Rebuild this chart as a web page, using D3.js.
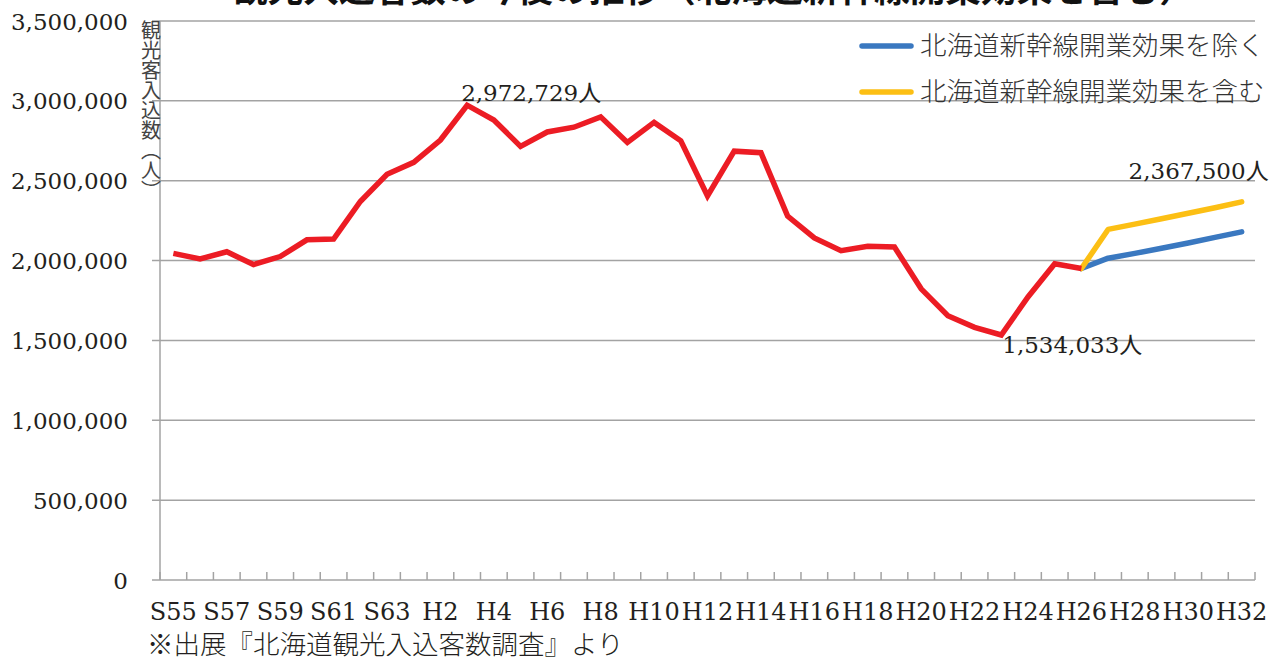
<!DOCTYPE html>
<meta charset="utf-8">
<script src="https://d3js.org/d3.v7.min.js"></script>
<style>
  body { margin: 0; background: #fff; }
  svg { display: block; }
</style>
<div id="vis"></div>
<script type="text/javascript">

// fiscal years S55 (1980) .. H32 (2020)
var years = ["S55","S56","S57","S58","S59","S60","S61","S62","S63",
  "H1","H2","H3","H4","H5","H6","H7","H8","H9","H10","H11","H12","H13","H14","H15","H16",
  "H17","H18","H19","H20","H21","H22","H23","H24","H25","H26","H27","H28","H29","H30","H31","H32"];

// actual visitors, S55 .. H26
var actual = [2045000, 2010000, 2055000, 1975000, 2025000, 2130000, 2135000, 2370000, 2540000,
  2615000, 2755000, 2972729, 2880000, 2715000, 2805000, 2835000, 2900000, 2740000, 2865000,
  2750000, 2405000, 2685000, 2675000, 2278000, 2142000, 2062000, 2090000, 2085000, 1823000,
  1655000, 1582000, 1534033, 1772000, 1980000, 1950000];

// forecasts H26 .. H32
var forecastYears = ["H26","H27","H28","H29","H30","H31","H32"];
var withoutShinkansen = [1950000, 2015000, 2045000, 2077000, 2110000, 2145000, 2180000];
var withShinkansen = [1950000, 2195000, 2228000, 2262000, 2296000, 2331000, 2367500];

var yTicks = [0, 500000, 1000000, 1500000, 2000000, 2500000, 3000000, 3500000];
var legendLabels = ["北海道新幹線開業効果を除く", "北海道新幹線開業効果を含む"];
var colors = {actual: "#ec1c24", without: "#3a78c0", with: "#fcbf14"};

var W = 1270, H = 663;
var margin = {left: 160, right: 1255, top: 21, bottom: 580};
var serif = "'DejaVu Serif', 'Noto Sans CJK JP', serif";
var cjk = "'Noto Sans CJK JP', sans-serif";

var svg = d3.select("#vis").append("svg")
  .attr("width", W)
  .attr("height", H);

var x = d3.scaleBand().domain(years).range([margin.left, margin.right]).padding(0);
var y = d3.scaleLinear().domain([0, 3500000]).range([margin.bottom, margin.top]);
var cx = function(yr) { return x(yr) + x.bandwidth() / 2; };
var fmt = d3.format(",");

// title, cut off at the top edge
svg.append("text")
  .attr("x", 232)
  .attr("y", 2)
  .attr("textLength", 963)
  .attr("lengthAdjust", "spacingAndGlyphs")
  .style("font-family", cjk)
  .style("font-weight", "bold")
  .style("font-size", "35px")
  .style("fill", "#111")
  .text("観光入込客数の今後の推移（北海道新幹線開業効果を含む）");

// gridlines
svg.append("g").selectAll("line").data(yTicks.filter(function(d) { return d > 0; }))
  .enter().append("line")
    .attr("x1", margin.left - 8)
    .attr("x2", margin.right)
    .attr("y1", function(d) { return y(d); })
    .attr("y2", function(d) { return y(d); })
    .attr("stroke", "#a3a3a3")
    .attr("stroke-width", 1.5);

// y tick labels
svg.append("g").selectAll("text").data(yTicks)
  .enter().append("text")
    .attr("x", 128)
    .attr("y", function(d) { return y(d) + 8.5; })
    .attr("text-anchor", "end")
    .style("font-family", serif)
    .style("font-size", "23px")
    .style("fill", "#231f20")
    .text(function(d) { return fmt(d); });

// axes lines
svg.append("line")
  .attr("x1", margin.left).attr("x2", margin.left)
  .attr("y1", margin.top).attr("y2", margin.bottom)
  .attr("stroke", "#a3a3a3").attr("stroke-width", 1.5);
svg.append("line")
  .attr("x1", margin.left - 8).attr("x2", margin.right)
  .attr("y1", margin.bottom).attr("y2", margin.bottom)
  .attr("stroke", "#a3a3a3").attr("stroke-width", 1.5);

// x ticks at category boundaries (pointing inside)
var bounds = years.map(function(d) { return x(d); }).concat([margin.right]);
svg.append("g").selectAll("line").data(bounds)
  .enter().append("line")
    .attr("x1", function(d) { return d; })
    .attr("x2", function(d) { return d; })
    .attr("y1", margin.bottom)
    .attr("y2", margin.bottom - 8)
    .attr("stroke", "#a3a3a3")
    .attr("stroke-width", 1.5);

// x labels, every other year
svg.append("g").selectAll("text").data(years.filter(function(d, i) { return i % 2 === 0; }))
  .enter().append("text")
    .attr("x", function(d) { return cx(d); })
    .attr("y", 620)
    .attr("text-anchor", "middle")
    .style("font-family", serif)
    .style("font-size", "24px")
    .style("fill", "#231f20")
    .text(function(d) { return d; });

// y axis title (vertical)
svg.append("text")
  .attr("x", 151)
  .attr("y", 20)
  .style("writing-mode", "vertical-rl")
  .style("font-family", cjk)
  .style("font-size", "20px")
  .style("fill", "#444")
  .text("観光客入込数（人）");

var line = d3.line()
  .x(function(d) { return cx(d[0]); })
  .y(function(d) { return y(d[1]); });

svg.append("path")
  .datum(forecastYears.map(function(d, i) { return [d, withoutShinkansen[i]]; }))
  .attr("d", line)
  .attr("fill", "none")
  .attr("stroke", colors.without)
  .attr("stroke-width", 5.5)
  .attr("stroke-linecap", "round")
  .attr("stroke-linejoin", "round");

svg.append("path")
  .datum(forecastYears.map(function(d, i) { return [d, withShinkansen[i]]; }))
  .attr("d", line)
  .attr("fill", "none")
  .attr("stroke", colors.with)
  .attr("stroke-width", 5.5)
  .attr("stroke-linecap", "round")
  .attr("stroke-linejoin", "round");

svg.append("path")
  .datum(actual.map(function(d, i) { return [years[i], d]; }))
  .attr("d", line)
  .attr("fill", "none")
  .attr("stroke", colors.actual)
  .attr("stroke-width", 5.5)
  .attr("stroke-linejoin", "miter");

// annotations
var peakIdx = actual.indexOf(d3.max(actual));
var minIdx = actual.indexOf(d3.min(actual));
var annots = [
  {x: cx(years[peakIdx]) - 6, y: y(actual[peakIdx]) - 4, v: actual[peakIdx], anchor: "start"},
  {x: cx(years[minIdx]) + 1, y: y(actual[minIdx]) + 18, v: actual[minIdx], anchor: "start"},
  {x: cx("H32") + 27, y: y(withShinkansen[withShinkansen.length - 1]) - 23,
   v: withShinkansen[withShinkansen.length - 1], anchor: "end"}
];
svg.append("g").selectAll("text").data(annots)
  .enter().append("text")
    .attr("x", function(d) { return d.x; })
    .attr("y", function(d) { return d.y; })
    .attr("text-anchor", function(d) { return d.anchor; })
    .style("font-family", serif)
    .style("font-size", "23px")
    .style("fill", "#231f20")
    .text(function(d) { return fmt(d.v) + "人"; });

// legend
var legend = svg.append("g").selectAll("g").data(legendLabels)
  .enter().append("g")
    .attr("transform", function(d, i) { return "translate(860," + (46 + i * 46) + ")"; });
legend.append("line")
  .attr("x1", 2).attr("x2", 51)
  .attr("y1", 0).attr("y2", 0)
  .attr("stroke", function(d, i) { return i === 0 ? colors.without : colors.with; })
  .attr("stroke-width", 5.5)
  .attr("stroke-linecap", "round");
legend.append("text")
  .attr("x", 60)
  .attr("y", 9)
  .style("font-family", cjk)
  .style("font-size", "26.5px")
  .style("font-weight", 300)
  .style("fill", "#333")
  .text(function(d) { return d; });

// source note
svg.append("text")
  .attr("x", 147)
  .attr("y", 654)
  .style("font-family", cjk)
  .style("font-size", "26.5px")
  .style("font-weight", 300)
  .style("fill", "#231f20")
  .text("※出展『北海道観光入込客数調査』より");

</script>
